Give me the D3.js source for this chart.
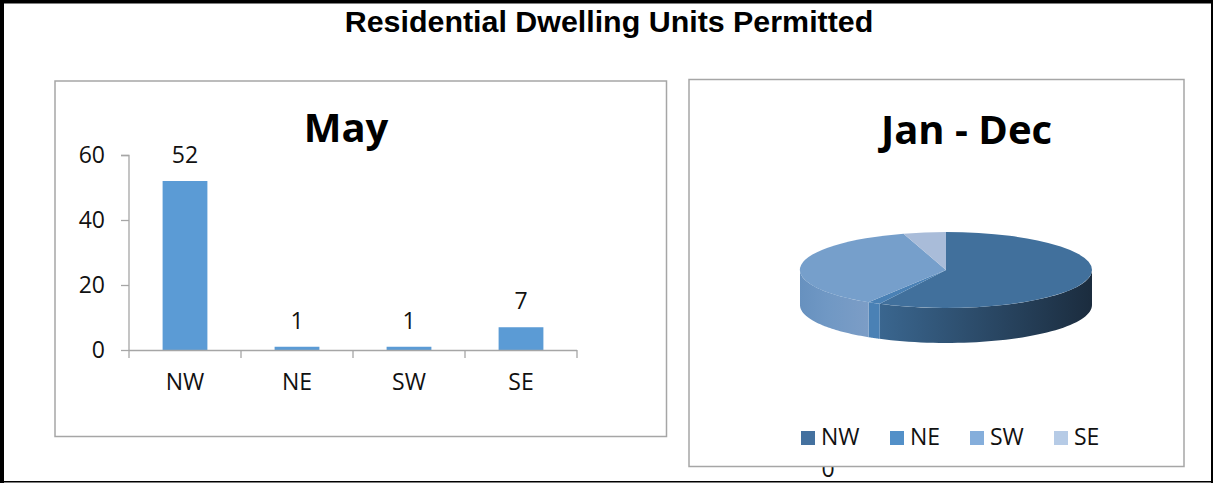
<!DOCTYPE html>
<html><head><meta charset="utf-8">
<script src="https://cdn.jsdelivr.net/npm/d3@7"></script>
<style>html,body{margin:0;padding:0;background:#fff;overflow:hidden}svg{display:block}
text{font-family:"Open Sans","Noto Sans",sans-serif;fill:#111}</style></head><body>
<script>
const mainTitle = "Residential Dwelling Units Permitted";
const barTitle = "May";
const pieTitle = "Jan - Dec";
const strayLabel = "0";
const categories = ["NW","NE","SW","SE"];
const mayValues = [52,1,1,7];
const yearValues = [575,14,364,47];
const yTicks = [0,20,40,60];
const topColors = ["#41709c","#4a81b5","#769fcb","#a9bcd9"];
const legendColors = ["#44719f","#5390c8","#85aedb","#b6cbe6"];
const legendOffsets = [801,890,970,1054];

const svg = d3.select("body").append("svg").attr("width",1213).attr("height",483);
const gray = "#a6a6a6";
const labelSize = "23px";
// outer frame
svg.append("rect").attr("x",0).attr("y",0).attr("width",4).attr("height",483);
svg.append("rect").attr("x",0).attr("y",0).attr("width",1213).attr("height",3.5);
svg.append("rect").attr("x",1211).attr("y",0).attr("width",2).attr("height",483);
svg.append("rect").attr("x",0).attr("y",481).attr("width",1213).attr("height",1.5);

svg.append("text").attr("x",609).attr("y",32).attr("text-anchor","middle")
  .style("font-family","'Liberation Sans',Arial,sans-serif").style("font-weight",700).style("font-size","30.4px").style("fill","#000").text(mainTitle);

// stray clipped label sits behind the pie pane
svg.append("text").attr("x",828).attr("y",477).attr("text-anchor","middle").style("font-size",labelSize).text(strayLabel);

svg.append("rect").attr("x",55).attr("y",81).attr("width",611.5).attr("height",355.5).attr("fill","#fff").attr("stroke",gray).attr("stroke-width",1.5);
svg.append("rect").attr("x",689).attr("y",79.5).attr("width",495).attr("height",387).attr("fill","#fff").attr("stroke",gray).attr("stroke-width",1.5);

// bars
const x = d3.scaleBand().domain(categories).range([129,577]).paddingInner(0.6).paddingOuter(0.3);
const xTick = d3.scaleBand().domain(categories).range([129,577]);
const y = d3.scaleLinear().domain([0,60]).range([350,155]);
const bars = svg.append("g");
bars.selectAll("rect.b").data(categories).join("rect").attr("class","b")
  .attr("x",d=>x(d)).attr("width",x.bandwidth())
  .attr("y",(d,i)=>y(mayValues[i])).attr("height",(d,i)=>y(0)-y(mayValues[i])).attr("fill","#5b9bd5");
const ya = svg.append("g").attr("transform","translate(129,0)").call(d3.axisLeft(y).tickValues(yTicks).tickSize(8).tickPadding(16));
ya.selectAll("line,path").attr("stroke",gray).attr("stroke-width",1.3);
ya.select("path").attr("d","M-8,155.5H0V350");
ya.selectAll("text").style("font-size",labelSize).attr("fill","#111");
const xa = svg.append("g").attr("transform","translate(0,350)").call(d3.axisBottom(xTick).tickSize(8).tickPadding(16));
xa.selectAll("g.tick line").attr("x1",-xTick.bandwidth()/2).attr("x2",-xTick.bandwidth()/2);
xa.append("line").attr("x1",577).attr("x2",577).attr("y2",8);
xa.selectAll("line,path").attr("stroke",gray).attr("stroke-width",1.3);
xa.select("path").attr("d","M129,0.5H577");
xa.selectAll("text").style("font-size",labelSize).attr("fill","#111");
bars.selectAll("text").data(categories).join("text").attr("text-anchor","middle")
  .attr("x",d=>x(d)+x.bandwidth()/2).attr("y",(d,i)=>y(mayValues[i])-18)
  .style("font-size",labelSize).text((d,i)=>mayValues[i]);
svg.append("text").attr("x",346).attr("y",142).attr("text-anchor","middle").style("font-size","40px").style("font-weight",700).style("fill","#000").text(barTitle);

// pie
const cx=946, cy=270, rx=146, ry=38, depth=35;
const arcs = d3.pie().sort(null)(yearValues);
const arc = d3.arc().innerRadius(0).outerRadius(1);
const defs = svg.append("defs");
const px = a => cx + rx*Math.sin(a), py = a => cy - ry*Math.cos(a);
function side(a0,a1){
  const s=Math.max(a0,Math.PI/2), e=Math.min(a1,3*Math.PI/2);
  if(e<=s) return null;
  const n=48; let top=[],bot=[];
  for(let i=0;i<=n;i++){const t=s+(e-s)*i/n; top.push([px(t),py(t)]); bot.push([px(t),py(t)+depth]);}
  return d3.line()(top.concat(bot.reverse()))+"Z";
}
const sideStops = [
  [["0","#1b2c3e"],["1","#3a668f"]],
  [["0","#4a81b5"],["1","#4a81b5"]],
  [["0","#7c9dc6"],["0.6","#7098c4"],["1","#6791bf"]],
  [["0","#a9bcd9"],["1","#a9bcd9"]]
];
arcs.forEach((d,i)=>{
  const s=Math.max(d.startAngle,Math.PI/2), e=Math.min(d.endAngle,3*Math.PI/2);
  if(e<=s) return;
  const g=defs.append("linearGradient").attr("id","sg"+i).attr("gradientUnits","userSpaceOnUse")
    .attr("x1",Math.max(px(s),px(e))).attr("x2",Math.min(px(s),px(e))).attr("y1",0).attr("y2",0);
  sideStops[i].forEach(st=>g.append("stop").attr("offset",st[0]).attr("stop-color",st[1]));
  svg.append("path").attr("d",side(d.startAngle,d.endAngle)).attr("fill","url(#sg"+i+")");
});
svg.append("g").attr("transform",`translate(${cx},${cy}) scale(${rx},${ry})`)
  .selectAll("path").data(arcs).join("path").attr("d",arc).attr("fill",(d,i)=>topColors[i]);
svg.append("text").attr("x",966.5).attr("y",144).attr("text-anchor","middle").style("font-size","40px").style("font-weight",700).style("fill","#000").text(pieTitle);

// legend
const leg = svg.append("g").selectAll("g").data(categories).join("g");
leg.append("rect").attr("x",(d,i)=>legendOffsets[i]).attr("y",431).attr("width",14).attr("height",14).attr("fill",(d,i)=>legendColors[i]);
leg.append("text").attr("x",(d,i)=>legendOffsets[i]+20).attr("y",445).style("font-size",labelSize).text(d=>d);
</script></body></html>
